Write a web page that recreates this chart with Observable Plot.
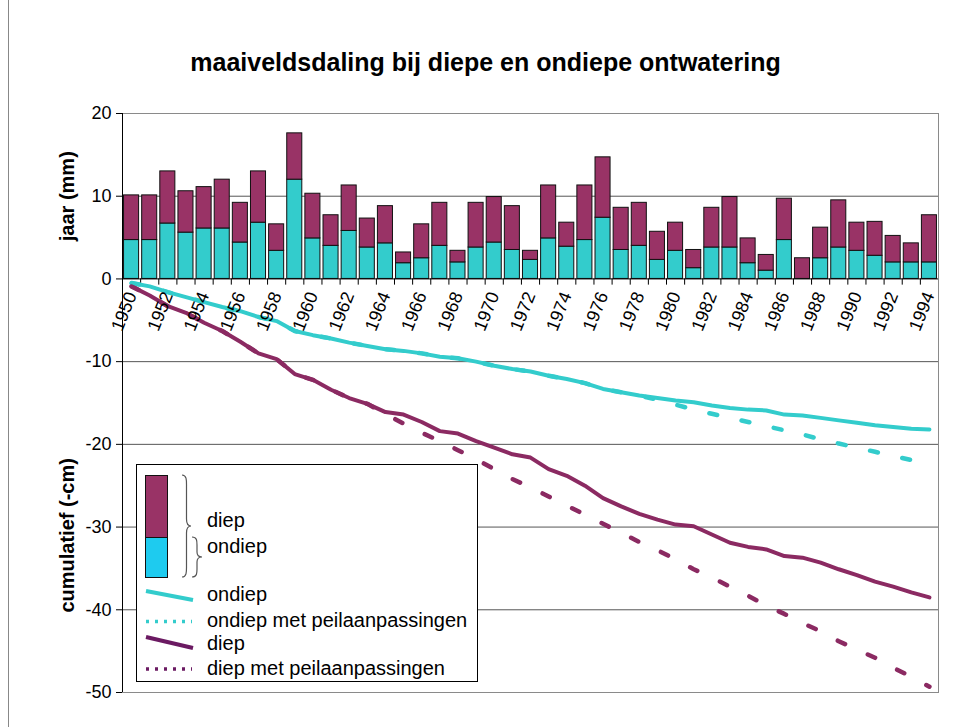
<!DOCTYPE html>
<html><head><meta charset="utf-8">
<script src="https://cdn.jsdelivr.net/npm/d3@7"></script>
<script src="https://cdn.jsdelivr.net/npm/@observablehq/plot@0.6"></script>
<style>
body{margin:0;background:#fff;}
#wrap{position:relative;width:955px;height:727px;overflow:hidden;font-family:"Liberation Sans",Arial,sans-serif;background:#fff;}
#edge{position:absolute;left:8px;top:0;width:1px;height:727px;background:#888;}
#title{position:absolute;left:8px;top:46px;width:955px;text-align:center;font-size:25px;font-weight:bold;line-height:32px;color:#000;}
#chart{position:absolute;left:0;top:95px;}
#legend{position:absolute;left:0;top:0;font-family:"Liberation Sans",Arial,sans-serif;}
</style></head>
<body>
<div id="wrap">
<div id="edge"></div>
<div id="title">maaiveldsdaling bij diepe en ondiepe ontwatering</div>
<div id="chart"></div>
<svg id="legend" width="955" height="727">
  <rect x="136.5" y="464.5" width="341" height="217" fill="#fff" stroke="#000"/>
  <rect x="145.5" y="475.5" width="22" height="62" fill="#993366" stroke="#111"/>
  <rect x="145.5" y="537.5" width="22" height="40" fill="#1ECBEF" stroke="#111"/>
  <path d="M182,475 C187,475 186.5,481 186.5,487 L186.5,519 C186.5,523 188,526 191,526 C188,526 186.5,529 186.5,533 L186.5,565 C186.5,571 187,577 182,577" fill="none" stroke="#555" stroke-width="1.2"/>
  <path d="M192,537 C197,537 197,541 197,545 L197,552 C197,555 199,557 202,557 C199,557 197,559 197,562 L197,569 C197,573 197,577 192,577" fill="none" stroke="#555" stroke-width="1.2"/>
  <text x="207" y="520" dy="0.35em" font-size="20" fill="#000">diep</text>
  <text x="207" y="546" dy="0.35em" font-size="20" fill="#000">ondiep</text>
  <line x1="146" y1="591" x2="193" y2="600" stroke="#33CCCC" stroke-width="4"/>
  <line x1="146" y1="621.5" x2="192" y2="621.5" stroke="#33CCCC" stroke-width="3.5" stroke-dasharray="3,6"/>
  <line x1="146" y1="637" x2="193" y2="648" stroke="#6B1A62" stroke-width="4"/>
  <line x1="146" y1="669" x2="192" y2="669" stroke="#6B1A62" stroke-width="3.5" stroke-dasharray="3,6"/>
  <text x="207" y="594" dy="0.35em" font-size="20" fill="#000">ondiep</text>
  <text x="207" y="620" dy="0.35em" font-size="20" fill="#000">ondiep met peilaanpassingen</text>
  <text x="207" y="643" dy="0.35em" font-size="20" fill="#000">diep</text>
  <text x="207" y="668" dy="0.35em" font-size="20" fill="#000">diep met peilaanpassingen</text>
</svg>
</div>
<script>
const years = [1950,1951,1952,1953,1954,1955,1956,1957,1958,1959,
  1960,1961,1962,1963,1964,1965,1966,1967,1968,1969,
  1970,1971,1972,1973,1974,1975,1976,1977,1978,1979,
  1980,1981,1982,1983,1984,1985,1986,1987,1988,1989,
  1990,1991,1992,1993,1994];
const labelYears = [1950,1952,1954,1956,1958,1960,1962,1964,1966,1968,1970,1972,1974,1976,1978,1980,1982,1984,1986,1988,1990,1992,1994];

// yearly subsidence (mm): top of total bar (diep) and top of cyan part (ondiep)
const jaarDiep = [10.1,10.1,13.0,10.6,11.1,12.0,9.2,13.0,6.6,17.6,
  10.3,7.7,11.3,7.3,8.8,3.2,6.6,9.2,3.4,9.2,
  9.9,8.8,3.4,11.3,6.8,11.3,14.7,8.6,9.2,5.7,
  6.8,3.5,8.6,9.9,4.9,2.9,9.7,2.5,6.2,9.5,
  6.8,6.9,5.2,4.3,7.7];
const jaarOndiep = [4.7,4.7,6.7,5.6,6.1,6.1,4.4,6.8,3.4,12.0,
  4.9,4.0,5.8,3.8,4.3,1.9,2.5,4.0,2.0,3.8,
  4.4,3.5,2.3,4.9,3.9,4.7,7.4,3.5,4.0,2.3,
  3.4,1.3,3.8,3.8,1.9,1.0,4.7,0.0,2.5,3.8,
  3.4,2.8,2.0,2.0,2.0];

// cumulative (-cm)
const cumOndiep = [-0.5,-0.9,-1.6,-2.2,-2.8,-3.4,-3.9,-4.6,-5.1,-6.3,
  -6.8,-7.2,-7.7,-8.1,-8.5,-8.7,-9.0,-9.4,-9.6,-10.0,
  -10.5,-10.9,-11.2,-11.7,-12.1,-12.6,-13.3,-13.7,-14.1,-14.4,
  -14.7,-14.9,-15.3,-15.6,-15.8,-15.9,-16.4,-16.5,-16.8,-17.1,
  -17.4,-17.7,-17.9,-18.1,-18.2];
const cumOndiepPeil = [-0.5,-0.9,-1.6,-2.2,-2.8,-3.4,-3.9,-4.6,-5.1,-6.3,
  -6.8,-7.2,-7.7,-8.1,-8.5,-8.7,-9.0,-9.4,-9.6,-10.0,
  -10.5,-10.9,-11.2,-11.7,-12.1,-12.6,-13.3,-13.7,-14.1,-14.6,
  -15.2,-15.8,-16.3,-16.8,-17.3,-17.8,-18.3,-18.8,-19.4,-19.9,
  -20.4,-20.9,-21.4,-21.9,-22.4];
const cumDiep = [-0.9,-2.0,-3.3,-4.1,-5.3,-6.3,-7.6,-9.0,-9.7,-11.5,
  -12.2,-13.4,-14.4,-15.1,-16.1,-16.4,-17.3,-18.4,-18.7,-19.6,
  -20.4,-21.2,-21.6,-23.0,-23.8,-25.0,-26.5,-27.5,-28.4,-29.1,
  -29.7,-29.9,-30.9,-31.9,-32.4,-32.7,-33.5,-33.7,-34.3,-35.1,
  -35.8,-36.6,-37.2,-37.9,-38.5];
const cumDiepPeil = [-0.9,-2.0,-3.3,-4.1,-5.3,-6.3,-7.6,-9.0,-9.7,-11.5,
  -12.2,-13.4,-14.4,-15.1,-16.3,-17.5,-18.6,-19.6,-20.7,-21.8,
  -23.0,-24.2,-25.2,-26.3,-27.4,-28.5,-29.6,-30.7,-31.8,-32.8,
  -33.9,-35.1,-36.1,-37.2,-38.3,-39.5,-40.5,-41.6,-42.6,-43.8,
  -44.8,-45.8,-47.0,-48.1,-49.3];

const yTicks = [20,10,0,-10,-20,-30,-40,-50];
const gridLines = [10,-10,-20,-30,-40];
const axisTitles = [{t:"jaar (mm)", v:10}, {t:"cumulatief (-cm)", v:-31}];

const bars = years.map((y,i) => ({year:y, ondiep:jaarOndiep[i], totaal:jaarDiep[i]}));
const rows = (arr) => years.map((y,i) => ({year:y, v:arr[i]}));

const W = 955, ML = 122, MR = 17;
const step = (W - ML - MR) / years.length;
const CYAN = "#33CCCC", PURPLE = "#8B2A62";

const plot = Plot.plot({
  width: W, height: 632,
  marginLeft: ML, marginRight: MR, marginTop: 18, marginBottom: 35,
  style: {fontFamily: '"Liberation Sans",Arial,sans-serif', background: "transparent", overflow: "visible", color: "#000"},
  x: {type: "band", domain: years, paddingInner: 0.17, paddingOuter: 0.085, round: false, axis: null},
  y: {domain: [-50, 20], axis: null},
  marks: [
    Plot.frame({stroke: "#8a8a8a"}),
    Plot.ruleY(gridLines, {stroke: "#555"}),
    Plot.barY(bars, {x: "year", y1: 0, y2: "ondiep", fill: CYAN, stroke: "#111", strokeWidth: 1}),
    Plot.barY(bars, {x: "year", y1: "ondiep", y2: "totaal", fill: "#993366", stroke: "#111", strokeWidth: 1}),
    Plot.ruleY([0], {stroke: "#000"}),
    Plot.ruleX(years, {x: d => d, y1: 0, y2: -0.75, dx: -step/2, stroke: "#000"}),
    Plot.ruleX([years[0]], {x: d => d, y1: -50, y2: 20, dx: -step/2, stroke: "#000"}),
    Plot.line(rows(cumOndiepPeil), {x: "year", y: "v", stroke: CYAN, strokeWidth: 4.5, strokeDasharray: "8,25"}),
    Plot.line(rows(cumDiepPeil), {x: "year", y: "v", stroke: PURPLE, strokeWidth: 4.5, strokeDasharray: "8,25"}),
    Plot.line(rows(cumOndiep), {x: "year", y: "v", stroke: CYAN, strokeWidth: 4}),
    Plot.line(rows(cumDiep), {x: "year", y: "v", stroke: PURPLE, strokeWidth: 4}),
    Plot.text(labelYears, {x: d => d, y: 0, text: d => String(d), rotate: -68, textAnchor: "end", dx: 0, dy: 14, fontSize: 18, fill: "#000"}),
    Plot.axisY({ticks: yTicks, tickSize: 6, tickPadding: 5, fontSize: 18, tickFormat: d => String(d), label: null, stroke: "#000", fill: "#000"}),
    Plot.text(axisTitles, {frameAnchor: "left", y: "v", text: "t", rotate: -90, textAnchor: "middle", dx: -55, fontWeight: "bold", fontSize: 20, fill: "#000"})
  ]
});
document.getElementById("chart").appendChild(plot);
</script>
</body></html>
